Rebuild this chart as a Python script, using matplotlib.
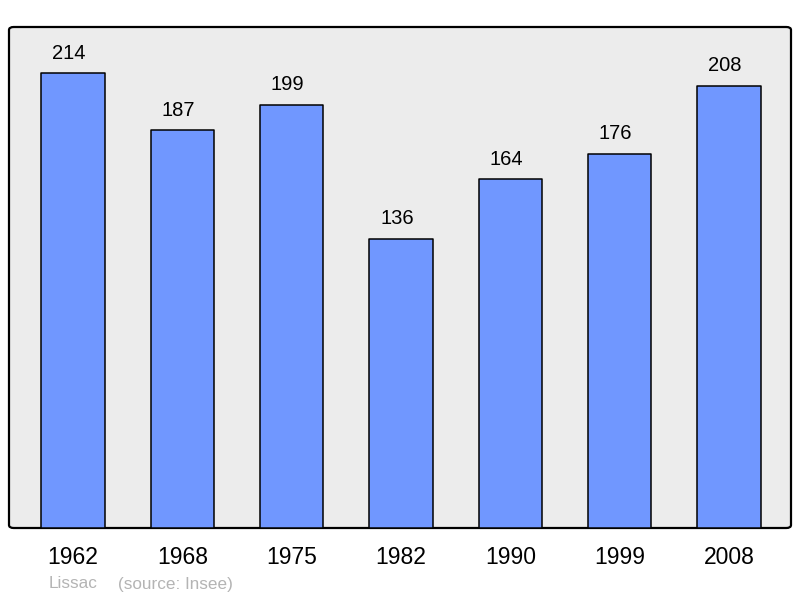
import matplotlib
matplotlib.use("Agg")
import matplotlib.pyplot as plt
from matplotlib.patches import FancyBboxPatch

years = ["1962", "1968", "1975", "1982", "1990", "1999", "2008"]
population = [214, 187, 199, 136, 164, 176, 208]
commune = "Lissac"
source = "(source: Insee)"

plt.rcParams['font.family'] = ['Liberation Sans', 'DejaVu Sans']

fig = plt.figure(figsize=(8, 5.98), dpi=100)
ax = fig.add_axes([9/800, 70/598, 782/800, 501/598])
ax.set_facecolor('none')
ax.set_xlim(-0.585, 6.567)
ax.set_ylim(0, 235.6)

bg = FancyBboxPatch((0, 0), 1, 1, boxstyle="round,pad=0,rounding_size=0.006",
                    transform=ax.transAxes, facecolor='#ececec', edgecolor='black',
                    linewidth=1.6, zorder=0, clip_on=False)
ax.add_patch(bg)

x = list(range(len(years)))
bars = ax.bar(x, population, width=0.58, color='#7097ff', edgecolor='black',
              linewidth=1.1, zorder=2)
for b in bars:
    b.set_joinstyle('round')

for xi, v in zip(x, population):
    ax.annotate(str(v), (xi, v), xytext=(-3, 7.5), textcoords='offset points',
                ha='center', va='bottom', fontsize=14.5, color='black')

ax.set_xticks(x)
ax.set_xticklabels(years, fontsize=16.5)
ax.tick_params(axis='x', length=0, pad=13)
ax.set_yticks([])
for s in ax.spines.values():
    s.set_visible(False)

fig.text(49/800, 1 - 584/598, commune, fontsize=12.3, color='#b4b4b4', va='center', ha='left')
fig.text(118/800, 1 - 584/598, source, fontsize=12.3, color='#b4b4b4', va='center', ha='left')

fig.savefig("out.png", dpi=100)
